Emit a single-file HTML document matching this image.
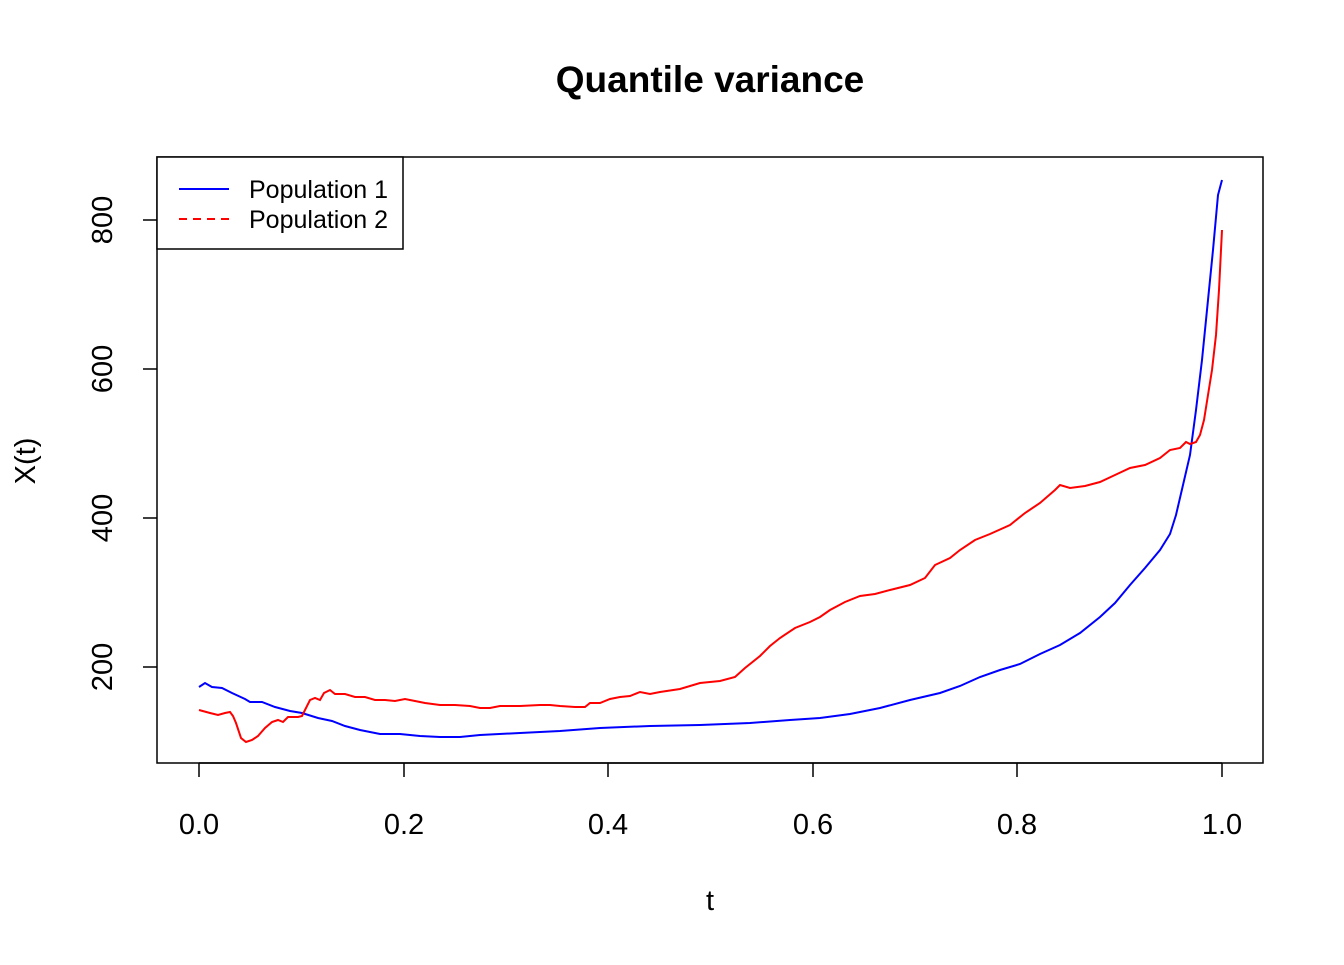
<!DOCTYPE html>
<html><head><style>body{margin:0;background:#fff}</style></head><body>
<svg width="1344" height="960" xmlns="http://www.w3.org/2000/svg" font-family="Liberation Sans, Arial, sans-serif">
<rect width="1344" height="960" fill="#fff"/>
<text x="710" y="92" font-size="37" font-weight="bold" text-anchor="middle">Quantile variance</text>
<rect x="157" y="157" width="1106" height="606" fill="none" stroke="#000" stroke-width="1.5"/>
<g stroke="#000" stroke-width="1.5">
<line x1="199" y1="763" x2="1222" y2="763"/>
<line x1="199" y1="763" x2="199" y2="777"/><line x1="404" y1="763" x2="404" y2="777"/><line x1="608" y1="763" x2="608" y2="777"/><line x1="813" y1="763" x2="813" y2="777"/><line x1="1017" y1="763" x2="1017" y2="777"/><line x1="1222" y1="763" x2="1222" y2="777"/>
<line x1="143" y1="667" x2="157" y2="667"/><line x1="143" y1="518" x2="157" y2="518"/><line x1="143" y1="369" x2="157" y2="369"/><line x1="143" y1="220" x2="157" y2="220"/>
</g>
<g font-size="29" text-anchor="middle">
<text x="199" y="834">0.0</text><text x="404" y="834">0.2</text><text x="608" y="834">0.4</text><text x="813" y="834">0.6</text><text x="1017" y="834">0.8</text><text x="1222" y="834">1.0</text>
<text x="710" y="910">t</text>
<text transform="translate(112,667) rotate(-90)">200</text>
<text transform="translate(112,518) rotate(-90)">400</text>
<text transform="translate(112,369) rotate(-90)">600</text>
<text transform="translate(112,220) rotate(-90)">800</text>
<text transform="translate(35,461) rotate(-90)">X(t)</text>
</g>
<polyline fill="none" stroke="#0000ff" stroke-width="2" points="199,687 205,683 212,687 222,688 232,693 245,699 250,702 262,702 275,707 290,711 302,713 318,718 332,721 345,726 360,730 380,734 400,734 420,736 440,737 460,737 480,735 520,733 560,731 600,728 650,726 700,725 750,723 790,720 820,718 850,714 880,708 910,700 940,693 960,686 980,677 1000,670 1020,664 1040,654 1060,645 1080,633 1100,617 1115,603 1130,585 1145,568 1160,550 1170,534 1176,515 1183,485 1190,455 1196,410 1202,360 1208,300 1213,250 1218,195 1222,180"/>
<polyline fill="none" stroke="#ff0000" stroke-width="2" points="199,710 210,713 218,715 225,713 230,712 233,716 236,723 241,738 246,742 252,740 258,736 265,728 272,722 278,720 283,722 288,717 298,717 302,716 305,710 310,700 315,698 320,700 324,693 330,690 335,694 345,694 355,697 365,697 375,700 385,700 395,701 405,699 415,701 425,703 440,705 455,705 470,706 480,708 490,708 500,706 520,706 540,705 550,705 560,706 575,707 585,707 590,703 600,703 610,699 620,697 630,696 640,692 650,694 660,692 680,689 700,683 720,681 735,677 745,668 760,656 770,646 780,638 795,628 810,622 820,617 830,610 845,602 860,596 875,594 890,590 910,585 925,578 935,565 950,558 960,550 975,540 990,534 1010,525 1025,513 1040,503 1055,490 1060,485 1070,488 1085,486 1100,482 1115,475 1130,468 1145,465 1160,458 1170,450 1180,448 1186,442 1190,444 1196,442 1200,435 1204,420 1208,395 1212,370 1216,335 1219,290 1222,230"/>
<rect x="157" y="157" width="246" height="92" fill="#fff" stroke="#000" stroke-width="1.5"/>
<line x1="179" y1="189" x2="229" y2="189" stroke="#0000ff" stroke-width="2"/>
<line x1="179" y1="219" x2="229" y2="219" stroke="#ff0000" stroke-width="2" stroke-dasharray="8,6"/>
<text x="249" y="198" font-size="25">Population 1</text>
<text x="249" y="228" font-size="25">Population 2</text>
</svg>
</body></html>
